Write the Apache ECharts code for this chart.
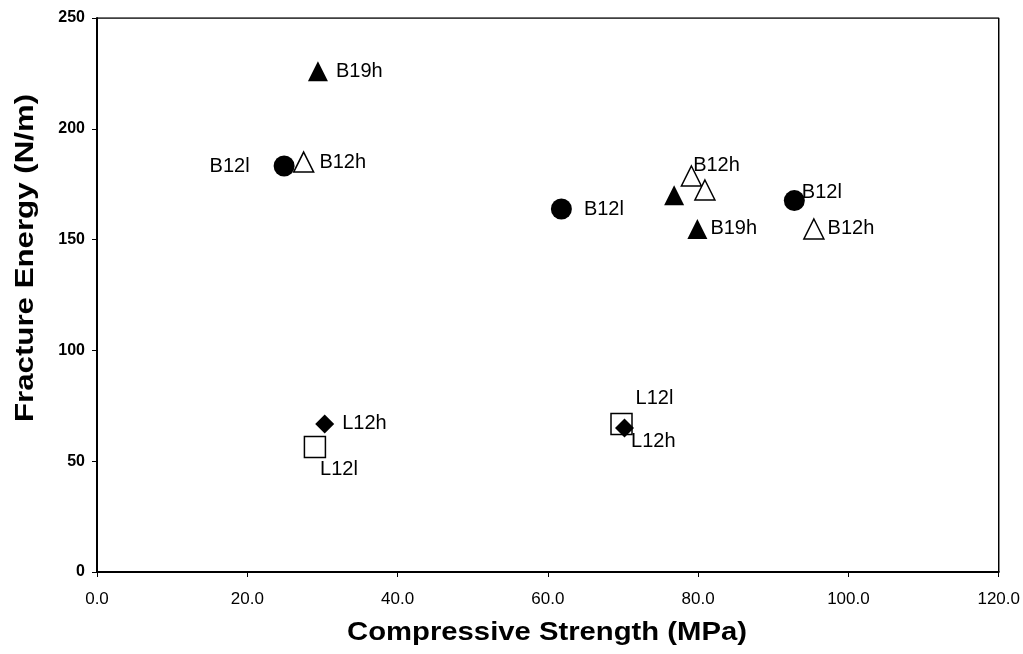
<!DOCTYPE html>
<html>
<head>
<meta charset="utf-8">
<script src="https://cdn.jsdelivr.net/npm/echarts@6/dist/echarts.min.js"></script>
</head>
<body style="margin:0;background:#fff">
<div id="main" style="width:1023px;height:654px;"></div>
<script type="text/javascript">
    // data: [compressive strength, fracture energy]
    var xTicks = [0, 20, 40, 60, 80, 100, 120];
    var yTicks = [0, 50, 100, 150, 200, 250];

    var b12lPoints = [[24.9, 183.2], [61.8, 163.8], [92.8, 167.6]];
    var b12lNames = ['B12l', 'B12l', 'B12l'];

    var b12hPoints = [[27.5, 185.0], [79.1, 178.7], [80.9, 172.4], [95.4, 154.8]];
    var b12hNames = ['B12h', 'B12h', '', 'B12h'];

    var b19hPoints = [[29.4, 226.0], [76.8, 170.0], [79.9, 154.8]];
    var b19hNames = ['B19h', '', 'B19h'];

    var l12lPoints = [[29.0, 56.4], [69.8, 66.8]];
    var l12lNames = ['L12l', 'L12l'];

    var l12hPoints = [[30.3, 66.8], [70.2, 65.0]];
    var l12hNames = ['L12h', 'L12h'];

    // where each label sits next to its marker
    var b12lLabel = [{position: 'left', distance: 24}, {position: 'right', distance: 12}, {position: 'right', offset: [-8, -8]}];
    var b12hLabel = [{position: 'right'}, {position: 'right', offset: [-14, -11]}, {}, {position: 'right', distance: 3}];
    var b19hLabel = [{position: 'right', distance: 8}, {}, {position: 'right', distance: 3}];
    var l12lLabel = [{position: 'bottom', offset: [24, -4]}, {position: 'top', offset: [33, 1]}];
    var l12hLabel = [{position: 'right', distance: 8}, {position: 'right', offset: [-8, 14]}];

    var labelFont = {color: '#000', fontSize: 20, fontFamily: 'Liberation Sans, Arial, sans-serif'};
    var titleFont = 'bold 25px "Liberation Sans", Arial, sans-serif';

    function makeData(points, names, places) {
        return points.map(function (p, i) {
            var lab = Object.assign({show: names[i] !== '', formatter: names[i]}, labelFont, places[i]);
            return {value: p, label: lab};
        });
    }

    function makeSeries(name, symbol, size, filled, points, names, places) {
        return {
            name: name,
            type: 'scatter',
            symbol: symbol,
            symbolSize: size,
            itemStyle: filled
                ? {color: '#000', opacity: 1}
                : {color: '#fff', borderColor: '#000', borderWidth: 1.5, opacity: 1},
            emphasis: {disabled: true},
            data: makeData(points, names, places)
        };
    }

    var myChart = echarts.init(document.getElementById('main'));
    var option = {
        animation: false,
        backgroundColor: '#fff',
        grid: {left: 97, right: 23, top: 18, bottom: 82},
        // axis titles, stretched a bit like the scanned original
        graphic: [
            {
                type: 'text', x: 547, y: 633, scaleX: 1.17,
                style: {text: 'Compressive Strength (MPa)', font: titleFont, fill: '#000', align: 'center', verticalAlign: 'middle'}
            },
            {
                type: 'text', x: 26, y: 258, rotation: Math.PI / 2, scaleX: 1.25,
                style: {text: 'Fracture Energy (N/m)', font: titleFont, fill: '#000', align: 'center', verticalAlign: 'middle'}
            }
        ],
        xAxis: {
            type: 'value',
            min: xTicks[0],
            max: xTicks[xTicks.length - 1],
            interval: 20,
            axisLine: {show: true, lineStyle: {color: '#000', width: 2}},
            axisTick: {show: true, inside: false, length: 5, lineStyle: {color: '#000'}},
            axisLabel: {
                color: '#000', fontSize: 17, margin: 19,
                fontFamily: 'Liberation Sans Narrow, Liberation Sans, Arial, sans-serif',
                formatter: function (v) { return v.toFixed(1); }
            },
            splitLine: {show: false}
        },
        yAxis: {
            type: 'value',
            min: yTicks[0],
            max: yTicks[yTicks.length - 1],
            interval: 50,
            axisLine: {show: true, lineStyle: {color: '#000', width: 2}},
            axisTick: {show: true, inside: false, length: 5, lineStyle: {color: '#000'}},
            axisLabel: {color: '#000', fontSize: 16, fontWeight: 'bold', margin: 12, fontFamily: 'Liberation Sans, Arial, sans-serif'},
            splitLine: {show: false}
        },
        series: [
            makeSeries('B12l', 'circle', 21, true, b12lPoints, b12lNames, b12lLabel),
            makeSeries('B12h', 'triangle', 20, false, b12hPoints, b12hNames, b12hLabel),
            makeSeries('B19h', 'triangle', 20, true, b19hPoints, b19hNames, b19hLabel),
            makeSeries('L12l', 'rect', 21, false, l12lPoints, l12lNames, l12lLabel),
            makeSeries('L12h', 'diamond', 19, true, l12hPoints, l12hNames, l12hLabel),
            // box around the plot area (top and right edges)
            {
                type: 'line',
                silent: true,
                symbol: 'none',
                lineStyle: {color: '#000', width: 1.5},
                data: [[0, 250], [120, 250], [120, 0]],
                z: 1
            }
        ]
    };
    myChart.setOption(option);
</script>
</body>
</html>
